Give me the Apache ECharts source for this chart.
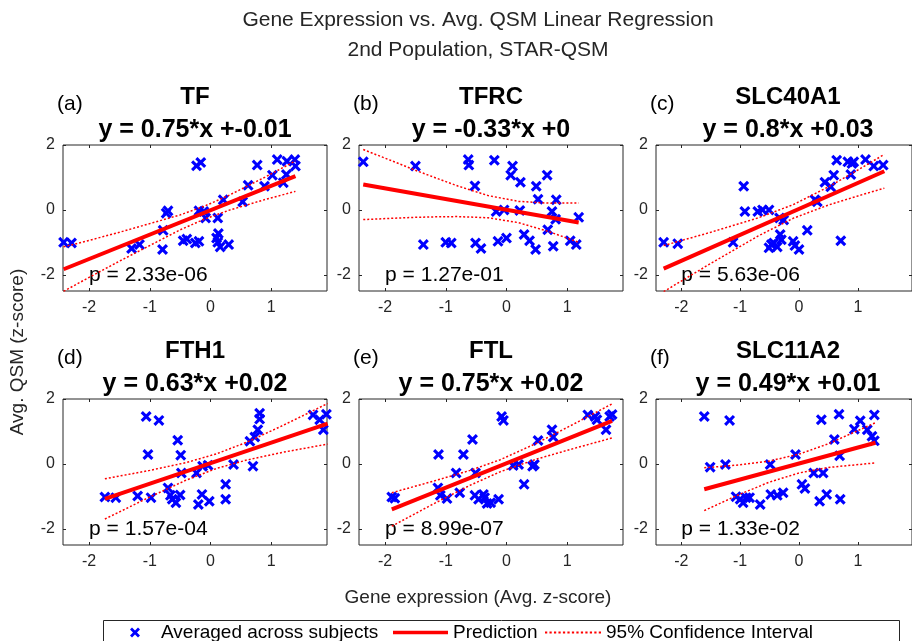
<!DOCTYPE html>
<html>
<head>
<meta charset="utf-8">
<script src="https://cdn.jsdelivr.net/npm/echarts@6/dist/echarts.min.js"></script>
<style>
  html, body { margin: 0; padding: 0; background: #fff; }
  #chart { width: 912px; height: 641px; }
</style>
</head>
<body>
<div id="chart"></div>
<script>
// ---- data ----
const geneNames = ['TF', 'TFRC', 'SLC40A1', 'FTH1', 'FTL', 'SLC11A2'];
const panelTags = ['(a)', '(b)', '(c)', '(d)', '(e)', '(f)'];
const fitLabels = ['y = 0.75*x +-0.01', 'y = -0.33*x +0', 'y = 0.8*x +0.03',
                   'y = 0.63*x +0.02', 'y = 0.75*x +0.02', 'y = 0.49*x +0.01'];
const pLabels = ['p = 2.33e-06', 'p = 1.27e-01', 'p = 5.63e-06',
                 'p = 1.57e-04', 'p = 8.99e-07', 'p = 1.33e-02'];
const pAnchor = [-2, -2];

const xTicks = [-2, -1, 0, 1];
const yTicks = [-2, 0, 2];

const tfPoints = [[-2.42,-1.0],[-2.29,-1.02],[-1.30,-1.19],[-1.17,-1.07],[-0.79,-1.22],[-0.78,-0.63],
  [-0.70,-0.03],[-0.73,-0.10],[-0.45,-0.95],[-0.39,-0.90],[-0.25,-1.02],[-0.19,-0.97],[-0.23,1.36],
  [-0.16,1.46],[-0.19,-0.03],[-0.11,-0.05],[-0.08,-0.25],[0.12,-0.25],[0.13,-0.73],[0.10,-0.87],
  [0.12,-1.0],[0.16,-1.14],[0.30,-1.07],[0.21,0.31],[0.53,0.25],[0.62,0.76],[0.77,1.38],[0.89,0.73],
  [1.02,1.07],[1.10,1.55],[1.20,0.84],[1.25,1.09],[1.26,1.50],[1.39,1.55],[1.40,1.35]];
const tfFit = [[-2.42,-1.83],[1.40,1.04]];
const tfUpper = [[-2.42,-1.14],[-2.0,-0.94],[-1.5,-0.69],[-0.5,-0.155],[-0.1,0.115],[0.3,0.445],[0.9,1.01],[1.4,1.51]];
const tfLower = [[-2.42,-2.51],[-2.0,-2.08],[-1.5,-1.58],[-0.5,-0.615],[-0.1,-0.285],[0.3,-0.015],[0.9,0.32],[1.4,0.57]];

const tfrcPoints = [[-2.36,1.48],[-1.50,1.35],[-1.37,-1.07],[-1.00,-1.0],[-0.91,-1.02],[-0.63,1.55],
  [-0.62,1.38],[-0.52,0.74],[-0.51,-1.02],[-0.42,-1.19],[-0.20,1.53],[-0.17,-0.05],[-0.14,-0.97],
  [-0.04,0.0],[0.0,-0.87],[0.07,1.07],[0.10,1.35],[0.22,-0.02],[0.23,0.85],[0.29,-0.76],[0.38,-0.95],
  [0.48,-1.22],[0.49,0.73],[0.52,0.33],[0.67,1.07],[0.68,-0.61],[0.75,-0.05],[0.77,-1.12],[0.81,-0.29],
  [0.82,0.31],[1.05,-0.95],[1.15,-1.07],[1.19,-0.23]];
const tfrcFit = [[-2.36,0.78],[1.19,-0.39]];
const tfrcUpper = [[-2.36,1.86],[-1.9,1.52],[-1.5,1.22],[-1.1,0.94],[-0.8,0.735],[-0.3,0.44],[0.2,0.262],[0.7,0.208],[1.19,0.214]];
const tfrcLower = [[-2.36,-0.30],[-1.9,-0.26],[-1.5,-0.23],[-1.1,-0.21],[-0.8,-0.207],[-0.3,-0.243],[0.2,-0.394],[0.7,-0.67],[1.19,-1.0]];

const slc40Points = [[-2.30,-1.0],[-2.06,-1.04],[-1.12,-1.0],[-0.94,0.73],[-0.92,-0.05],[-0.70,-0.05],
  [-0.62,0.0],[-0.51,0.0],[-0.51,-1.17],[-0.47,-1.07],[-0.43,-1.02],[-0.37,-1.14],[-0.33,-0.25],
  [-0.32,-0.76],[-0.30,-0.92],[-0.26,-0.31],[-0.10,-0.97],[-0.07,-1.10],[0.0,-1.22],[0.14,-0.63],
  [0.27,0.31],[0.31,0.25],[0.44,0.85],[0.54,0.71],[0.59,1.07],[0.64,1.53],[0.71,-0.95],[0.83,1.48],
  [0.88,1.09],[0.90,1.43],[0.93,1.48],[1.13,1.55],[1.27,1.35],[1.43,1.38]];
const slc40Fit = [[-2.30,-1.81],[1.45,1.19]];
const slc40Upper = [[-2.30,-1.10],[-1.5,-0.69],[-0.7,-0.25],[-0.1,0.16],[0.5,0.71],[1.0,1.23],[1.45,1.71]];
const slc40Lower = [[-2.30,-2.52],[-1.5,-1.65],[-0.7,-0.81],[-0.1,-0.26],[0.5,0.15],[1.0,0.43],[1.45,0.67]];

const fth1Points = [[-1.74,-1.02],[-1.56,-1.04],[-1.20,-0.99],[-1.06,1.46],[-1.03,0.29],[-0.98,-1.04],
  [-0.85,1.34],[-0.70,-0.74],[-0.66,-0.97],[-0.63,-1.09],[-0.57,-1.20],[-0.54,0.73],[-0.50,-0.96],
  [-0.49,0.27],[-0.48,-0.28],[-0.23,-0.28],[-0.20,-1.25],[-0.14,-0.94],[-0.13,-0.07],[-0.02,-1.15],
  [-0.04,-0.04],[0.25,-0.63],[0.25,-1.09],[0.38,-0.02],[0.65,0.70],[0.70,-0.07],[0.73,0.83],[0.78,1.05],
  [0.81,1.56],[0.81,1.38],[1.69,1.51],[1.80,1.36],[1.86,1.05],[1.91,1.53]];
const fth1Fit = [[-1.74,-1.08],[1.93,1.24]];
const fth1Upper = [[-1.74,-0.46],[-1.0,-0.20],[-0.4,0.04],[0.1,0.31],[0.6,0.67],[1.2,1.19],[1.93,1.86]];
const fth1Lower = [[-1.74,-1.70],[-1.0,-1.02],[-0.4,-0.50],[0.1,-0.14],[0.6,0.12],[1.2,0.36],[1.93,0.61]];

const ftlPoints = [[-1.89,-1.02],[-1.84,-1.06],[-1.12,0.29],[-1.13,-0.74],[-1.09,-0.97],[-0.98,-1.07],
  [-0.83,-0.28],[-0.77,-0.89],[-0.71,0.29],[-0.56,0.75],[-0.52,-0.97],[-0.51,-0.28],[-0.46,-1.09],
  [-0.38,-0.94],[-0.36,-1.04],[-0.32,-1.22],[-0.26,-1.20],[-0.13,-1.09],[-0.08,1.46],[-0.05,1.34],
  [0.11,-0.05],[0.20,-0.02],[0.29,-0.63],[0.43,-0.07],[0.46,-0.02],[0.52,0.72],[0.75,1.05],[0.77,0.83],
  [1.34,1.51],[1.46,1.46],[1.49,1.36],[1.64,1.05],[1.70,1.46],[1.74,1.52]];
const ftlFit = [[-1.89,-1.40],[1.74,1.325]];
const ftlUpper = [[-1.89,-0.89],[-1.2,-0.53],[-0.6,-0.20],[-0.1,0.13],[0.5,0.64],[1.1,1.22],[1.74,1.85]];
const ftlLower = [[-1.89,-1.92],[-1.2,-1.23],[-0.6,-0.66],[-0.1,-0.24],[0.5,0.15],[1.1,0.47],[1.74,0.80]];

const slc11Points = [[-1.61,1.46],[-1.51,-0.10],[-1.25,-0.02],[-1.18,1.34],[-1.07,-1.01],[-1.00,-1.09],
  [-0.95,-1.20],[-0.90,-1.04],[-0.84,-1.04],[-0.66,-1.25],[-0.49,-0.02],[-0.48,-0.94],[-0.37,-0.97],
  [-0.27,-0.89],[-0.06,0.29],[0.05,-0.63],[0.10,-0.76],[0.25,-0.28],[0.35,-1.15],[0.38,1.36],
  [0.41,-0.28],[0.47,-0.94],[0.60,0.75],[0.68,1.53],[0.69,0.25],[0.70,-1.09],[0.94,1.07],[1.04,1.33],
  [1.16,1.05],[1.24,0.85],[1.28,1.51],[1.28,0.71]];
const slc11Fit = [[-1.61,-0.78],[1.30,0.65]];
const slc11Upper = [[-1.61,-0.12],[-1.0,-0.03],[-0.5,0.09],[0.0,0.30],[0.5,0.62],[1.30,1.27]];
const slc11Lower = [[-1.61,-1.44],[-1.0,-0.93],[-0.5,-0.56],[0.0,-0.28],[0.5,-0.11],[1.30,0.03]];

const pointSets = [tfPoints, tfrcPoints, slc40Points, fth1Points, ftlPoints, slc11Points];
const fitSets = [tfFit, tfrcFit, slc40Fit, fth1Fit, ftlFit, slc11Fit];
const upperSets = [tfUpper, tfrcUpper, slc40Upper, fth1Upper, ftlUpper, slc11Upper];
const lowerSets = [tfLower, tfrcLower, slc40Lower, fth1Lower, ftlLower, slc11Lower];

// ---- layout ----
const TXT = '#262626';
const FONT = 'Liberation Sans';
const X_MARK = 'path://M2,0 L5,3 L8,0 L10,2 L7,5 L10,8 L8,10 L5,7 L2,10 L0,8 L3,5 L0,2 Z';
const SOLID_ICON = 'path://M0,0 H50 V3 H0 Z';
const DOT_ICON = 'path://M0,0h2v2h-2z M4,0h2v2h-2z M8,0h2v2h-2z M12,0h2v2h-2z M16,0h2v2h-2z ' +
  'M20,0h2v2h-2z M24,0h2v2h-2z M28,0h2v2h-2z M32,0h2v2h-2z M36,0h2v2h-2z M40,0h2v2h-2z ' +
  'M44,0h2v2h-2z M48,0h2v2h-2z';
const gridLefts = [63, 359, 656];
const gridTops = [145, 399];
const gridW = 264, gridH = 146;
const xRange = [-2.43, 1.92];
const yRange = [-2.5, 2];

const grids = [], xAxes = [], yAxes = [], series = [], graphics = [];

function tickAxis(gridIndex, position, range, ticks, showLabel, margin) {
  return {
    type: 'value', gridIndex, position, min: range[0], max: range[1],
    axisLine: { show: false, onZero: false },
    splitLine: { show: false },
    axisTick: { inside: true, length: 3, lineStyle: { color: TXT }, customValues: ticks },
    axisLabel: showLabel
      ? { customValues: ticks, color: TXT, fontSize: 16, fontFamily: FONT, margin: margin }
      : { show: false }
  };
}

geneNames.forEach((gene, i) => {
  const left = gridLefts[i % 3];
  const top = gridTops[Math.floor(i / 3)];
  const cx = left + gridW / 2;

  grids.push({ left, top, width: gridW, height: gridH, show: true,
    borderColor: TXT, borderWidth: 1, backgroundColor: '#fff' });

  xAxes.push(tickAxis(i, 'bottom', xRange, xTicks, true, 9));
  xAxes.push(tickAxis(i, 'top', xRange, xTicks, false));
  yAxes.push(tickAxis(i, 'left', yRange, yTicks, true, 8));
  yAxes.push(tickAxis(i, 'right', yRange, yTicks, false));

  const ax = { xAxisIndex: 2 * i, yAxisIndex: 2 * i };
  series.push(Object.assign({
    name: 'Averaged across subjects', type: 'scatter', data: pointSets[i],
    symbol: X_MARK, symbolSize: 11, itemStyle: { color: '#0000ff', opacity: 1 }
  }, ax));
  series.push(Object.assign({
    name: 'Prediction', type: 'line', data: fitSets[i], symbol: 'none',
    lineStyle: { color: '#ff0000', width: 4 }, itemStyle: { color: '#ff0000' }
  }, ax));
  [upperSets[i], lowerSets[i]].forEach(ci => {
    series.push(Object.assign({
      name: '95% Confidence Interval', type: 'line', data: ci, symbol: 'none',
      lineStyle: { color: '#ff0000', width: 1.5, type: [2, 2] }, itemStyle: { color: '#ff0000' }
    }, ax));
  });
  series.push(Object.assign({
    name: 'pText', type: 'scatter', data: [pAnchor], symbolSize: 0, silent: true,
    itemStyle: { opacity: 1 },
    label: { show: true, position: 'right', distance: 0, formatter: pLabels[i],
      fontSize: 21, color: '#000', fontFamily: FONT }
  }, ax));

  graphics.push({ type: 'text', x: cx, y: top - 48,
    style: { text: gene, font: 'bold 24px "' + FONT + '"', fill: '#000', align: 'center', verticalAlign: 'middle' } });
  graphics.push({ type: 'text', x: cx, y: top - 15,
    style: { text: fitLabels[i], font: 'bold 25px "' + FONT + '"', fill: '#000', align: 'center', verticalAlign: 'middle' } });
  graphics.push({ type: 'text', x: left - 6, y: top - 41,
    style: { text: panelTags[i], font: '21px "' + FONT + '"', fill: '#000', align: 'left', verticalAlign: 'middle' } });
});

graphics.push({ type: 'text', x: 478, y: 20,
  style: { text: 'Gene Expression vs. Avg. QSM Linear Regression', font: '21px "' + FONT + '"', fill: TXT, align: 'center', verticalAlign: 'middle' } });
graphics.push({ type: 'text', x: 478, y: 50,
  style: { text: '2nd Population, STAR-QSM', font: '21px "' + FONT + '"', fill: TXT, align: 'center', verticalAlign: 'middle' } });
graphics.push({ type: 'text', x: 478, y: 598,
  style: { text: 'Gene expression (Avg. z-score)', font: '19px "' + FONT + '"', fill: TXT, align: 'center', verticalAlign: 'middle' } });
graphics.push({ type: 'text', x: 18, y: 352, rotation: Math.PI / 2,
  style: { text: 'Avg. QSM (z-score)', font: '19px "' + FONT + '"', fill: TXT, align: 'center', verticalAlign: 'middle' } });
graphics.push({ type: 'rect', shape: { x: 103.5, y: 620.5, width: 796, height: 40 },
  style: { fill: '#fff', stroke: TXT, lineWidth: 1 }, z: 0 });

const legendText = { fontSize: 19, color: '#000', fontFamily: FONT };
const chart = echarts.init(document.getElementById('chart'));
chart.setOption({
  animation: false,
  textStyle: { fontFamily: FONT },
  grid: grids,
  xAxis: xAxes,
  yAxis: yAxes,
  series: series,
  graphic: graphics,
  legend: [
    { data: [{ name: 'Averaged across subjects', icon: X_MARK }], left: 130, top: 623, padding: 0,
      itemWidth: 42, itemHeight: 10, z: 10, textStyle: legendText },
    { data: [{ name: 'Prediction', icon: SOLID_ICON }], left: 393, top: 623, padding: 0,
      itemWidth: 55, itemHeight: 10, z: 10, textStyle: legendText },
    { data: [{ name: '95% Confidence Interval', icon: DOT_ICON }], left: 545, top: 623, padding: 0,
      itemWidth: 56, itemHeight: 10, z: 10, textStyle: legendText }
  ]
});
</script>
</body>
</html>
